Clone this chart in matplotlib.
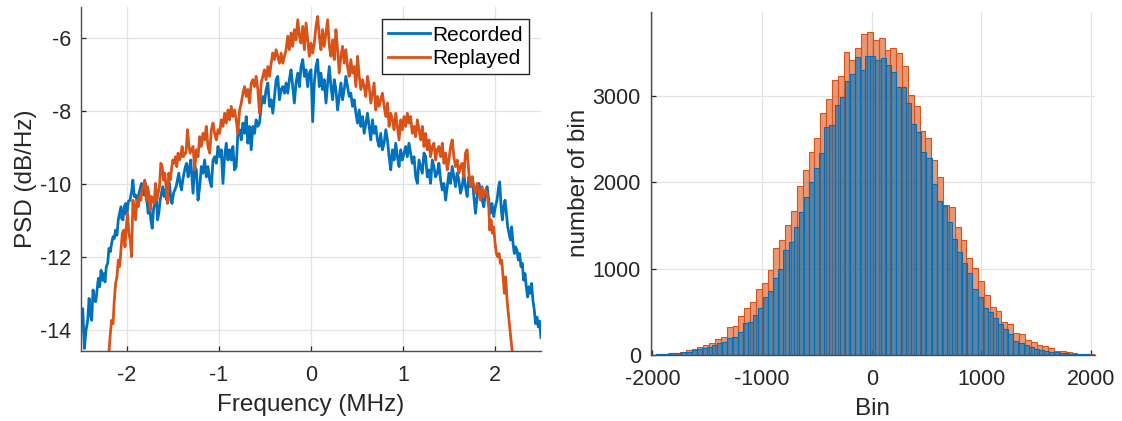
import numpy as np
import matplotlib
matplotlib.use("Agg")
import matplotlib.pyplot as plt

plt.rcParams['font.family'] = ['Liberation Sans', 'DejaVu Sans']
plt.rcParams['axes.unicode_minus'] = False

# ---------------- PSD data (MHz, dB/Hz) ----------------
rec_freq_a = [-2.500, -2.481, -2.463, -2.445, -2.427, -2.412, -2.398, -2.384, -2.369, -2.355, -2.340, -2.326,
              -2.311, -2.297, -2.282, -2.268, -2.254, -2.239, -2.225, -2.210, -2.196, -2.181, -2.167, -2.152,
              -2.138, -2.124, -2.109, -2.095, -2.080, -2.066, -2.059, -2.044, -2.030, -2.015, -2.001, -1.986,
              -1.968, -1.950, -1.936, -1.921, -1.907, -1.892, -1.878, -1.860, -1.842, -1.827, -1.813, -1.798,
              -1.784, -1.770, -1.755, -1.741, -1.726, -1.712, -1.697, -1.683, -1.668, -1.654, -1.640, -1.625,
              -1.611, -1.596, -1.582, -1.567, -1.553, -1.538, -1.524, -1.510, -1.495, -1.481, -1.466, -1.452,
              -1.437, -1.423, -1.408, -1.394, -1.380, -1.365, -1.351, -1.336, -1.322, -1.307]
rec_psd_a = [-13.70, -13.41, -14.50, -14.00, -13.73, -13.13, -13.54, -13.73, -12.90, -13.18, -13.22, -12.90,
             -12.58, -12.81, -12.36, -12.63, -12.45, -12.68, -12.26, -12.17, -11.76, -11.85, -11.62, -11.44,
             -11.49, -11.26, -11.40, -10.98, -10.80, -10.62, -10.94, -10.98, -10.62, -10.53, -10.85, -10.48,
             -10.44, -10.21, -9.89, -10.34, -10.30, -10.44, -10.34, -10.16, -9.98, -10.25, -10.30, -9.98,
             -10.44, -10.80, -10.53, -10.98, -11.21, -10.71, -10.44, -10.25, -10.98, -10.80, -10.44, -10.25,
             -10.07, -10.34, -10.16, -10.44, -10.25, -9.98, -10.44, -10.53, -10.25, -10.16, -10.07, -9.89,
             -9.70, -9.98, -10.16, -9.89, -9.70, -9.52, -9.43, -9.80, -9.61, -9.34]

mid_freq_a = [-1.282, -1.264, -1.246, -1.228, -1.210, -1.192, -1.174, -1.156, -1.138, -1.120, -1.101, -1.083,
              -1.065, -1.047, -1.029, -1.011, -0.993, -0.975, -0.957, -0.939, -0.921, -0.903, -0.885, -0.867,
              -0.849, -0.831, -0.813, -0.795, -0.776, -0.758, -0.740, -0.722, -0.704, -0.686, -0.668, -0.650,
              -0.632, -0.614, -0.596, -0.578, -0.560, -0.542, -0.524, -0.506, -0.488, -0.469, -0.451, -0.433,
              -0.415, -0.397, -0.379, -0.361, -0.343, -0.325, -0.307, -0.289, -0.271, -0.253, -0.235, -0.217,
              -0.199, -0.181, -0.163, -0.144, -0.126, -0.108, -0.090, -0.072, -0.054, -0.036, -0.018, 0.000]
rec_psd_b = [-10.25, -9.52, -9.61, -10.44, -10.07, -9.52, -9.70, -9.34, -9.80, -9.52, -9.89, -10.07,
             -9.34, -9.25, -9.43, -8.97, -9.25, -9.06, -9.98, -9.25, -8.88, -9.34, -9.06, -9.34,
             -8.97, -9.61, -9.52, -8.61, -8.51, -8.79, -8.33, -8.61, -8.15, -8.88, -8.42, -9.06,
             -8.42, -8.61, -8.24, -8.42, -8.33, -7.87, -7.60, -7.78, -7.41, -7.23, -7.87, -7.69,
             -8.06, -7.60, -7.14, -7.05, -7.69, -7.41, -7.33, -7.51, -7.23, -7.51, -7.14, -6.87,
             -7.33, -7.78, -7.23, -6.96, -7.33, -6.78, -6.59, -7.05, -6.87, -7.33, -6.96, -6.87]
rep_psd_b = [-8.97, -9.61, -9.06, -9.25, -8.70, -8.97, -8.61, -8.79, -8.42, -8.97, -9.15, -8.51,
             -8.33, -8.61, -8.79, -8.51, -8.61, -8.24, -8.42, -8.06, -8.33, -7.97, -8.24, -7.87,
             -8.15, -7.97, -8.24, -8.61, -7.97, -7.78, -7.51, -7.33, -7.60, -7.41, -7.78, -7.23,
             -7.14, -7.33, -7.05, -7.41, -8.06, -7.23, -7.05, -6.87, -7.14, -6.78, -7.05, -6.69,
             -6.41, -6.59, -6.32, -6.50, -6.69, -6.41, -6.69, -6.50, -6.32, -5.95, -6.32, -5.86,
             -6.23, -5.77, -6.05, -5.50, -5.95, -6.14, -5.68, -6.32, -5.59, -6.05, -6.50, -6.14]

mid_freq_c = [0.018, 0.036, 0.054, 0.072, 0.090, 0.108, 0.126, 0.144, 0.163, 0.181, 0.199, 0.217,
              0.235, 0.253, 0.271, 0.289, 0.307, 0.325, 0.343, 0.361, 0.379, 0.397, 0.415, 0.433,
              0.451, 0.469, 0.488, 0.506, 0.524, 0.542, 0.560, 0.578, 0.596, 0.614, 0.632, 0.650,
              0.668, 0.686, 0.704, 0.722, 0.740, 0.758, 0.776, 0.795, 0.813, 0.831, 0.849, 0.867,
              0.885, 0.903, 0.921, 0.939, 0.957, 0.975, 0.993, 1.011, 1.029, 1.047, 1.065, 1.083,
              1.101, 1.120, 1.138, 1.156, 1.174, 1.192, 1.210, 1.228, 1.246]
rec_psd_c = [-8.29, -7.23, -6.78, -6.59, -7.33, -6.96, -7.41, -7.14, -7.78, -7.23, -6.78, -7.33,
             -7.69, -7.14, -7.41, -7.97, -7.60, -7.23, -7.69, -7.41, -7.05, -7.33, -7.60, -7.51,
             -7.87, -7.69, -8.06, -8.33, -7.97, -8.42, -8.15, -8.61, -8.33, -8.06, -8.42, -8.79,
             -8.24, -8.61, -8.42, -8.79, -8.97, -8.61, -9.06, -8.88, -8.51, -8.79, -9.25, -9.61,
             -9.06, -9.34, -8.88, -9.25, -9.52, -9.06, -9.34, -9.15, -8.97, -9.25, -8.88, -9.15,
             -9.43, -9.25, -9.80, -9.98, -9.34, -9.52, -9.70, -9.15, -9.25]
rep_psd_c = [-6.41, -6.14, -5.68, -5.41, -5.95, -6.32, -5.77, -6.23, -5.86, -5.50, -6.23, -6.50,
             -6.05, -6.59, -5.77, -6.32, -6.96, -6.50, -6.23, -6.69, -6.32, -6.78, -7.05, -6.59,
             -6.96, -6.78, -7.33, -6.50, -7.05, -7.41, -7.14, -7.33, -7.60, -7.05, -7.33, -7.78,
             -7.51, -7.23, -7.97, -7.60, -7.87, -7.69, -7.51, -7.87, -8.15, -7.78, -8.42, -8.06,
             -8.24, -8.51, -8.06, -8.42, -8.79, -8.24, -8.51, -8.15, -8.42, -8.06, -8.33, -8.15,
             -8.61, -8.42, -8.70, -8.24, -8.51, -8.79, -8.42, -8.97, -8.61]

rec_freq_d = [1.264, 1.282, 1.300, 1.318, 1.336, 1.354, 1.372, 1.390, 1.409, 1.427, 1.445, 1.463,
              1.481, 1.499, 1.517, 1.535, 1.553, 1.571, 1.589, 1.607, 1.625, 1.643, 1.661, 1.679,
              1.697, 1.716, 1.734, 1.752, 1.770, 1.788, 1.806, 1.824, 1.842, 1.860, 1.878, 1.896,
              1.914, 1.932, 1.950, 1.968, 1.986, 2.004, 2.022, 2.040,
              2.051, 2.066, 2.080, 2.095, 2.109, 2.124, 2.138, 2.152, 2.167, 2.181, 2.196, 2.210,
              2.225, 2.239, 2.254, 2.268, 2.282, 2.297, 2.311, 2.326, 2.340, 2.355, 2.369, 2.384,
              2.398, 2.412, 2.427, 2.441, 2.456, 2.470, 2.485, 2.499]
rec_psd_d = [-9.80, -9.61, -9.98, -9.34, -9.52, -9.80, -9.70, -9.43, -9.89, -10.16, -9.98, -10.44,
             -10.07, -9.70, -9.98, -9.52, -9.80, -10.07, -9.70, -9.89, -10.25, -10.07, -9.70, -10.07,
             -10.34, -9.80, -10.07, -9.80, -10.34, -10.80, -10.34, -9.98, -10.16, -10.44, -10.62, -10.25,
             -10.07, -10.44, -10.80, -10.53, -10.89, -10.62, -10.44, -10.07,
             -9.94, -10.62, -10.98, -10.62, -10.44, -10.80, -11.17, -11.35, -11.53, -11.17, -11.62, -11.90,
             -11.72, -11.81, -12.08, -11.90, -12.26, -12.17, -12.63, -12.45, -12.81, -13.09, -12.81, -12.99,
             -12.72, -13.18, -13.45, -13.82, -13.64, -13.91, -13.75, -14.20]

rep_freq_a = [-2.196, -2.181, -2.167, -2.152, -2.138, -2.124, -2.109, -2.095, -2.080, -2.066, -2.051, -2.037,
              -2.022, -2.008, -1.994, -1.979, -1.965, -1.950, -1.936, -1.921, -1.907, -1.892, -1.878, -1.863,
              -1.849, -1.835, -1.820, -1.806, -1.791, -1.777, -1.762, -1.748, -1.733, -1.719, -1.705, -1.690,
              -1.676, -1.661, -1.647, -1.632, -1.618, -1.603, -1.589, -1.575, -1.560, -1.546, -1.531, -1.517,
              -1.502, -1.488, -1.473, -1.459, -1.445, -1.430, -1.416, -1.401, -1.387, -1.372, -1.358, -1.343,
              -1.329, -1.315]
rep_psd_a = [-14.60, -14.09, -13.73, -13.82, -13.18, -12.72, -12.54, -12.08, -12.26, -11.81, -11.35, -11.26,
             -11.72, -11.17, -10.80, -11.35, -11.53, -11.99, -10.44, -10.62, -10.98, -10.44, -10.62, -10.34,
             -10.44, -10.16, -10.07, -9.89, -10.44, -10.07, -10.25, -10.71, -10.34, -10.44, -10.53, -9.98,
             -10.44, -10.25, -10.07, -9.43, -9.52, -9.89, -9.70, -10.07, -10.53, -9.70, -9.89, -9.61,
             -9.34, -9.43, -9.25, -9.52, -9.15, -9.34, -9.25, -8.97, -9.25, -9.15, -9.15, -8.51,
             -8.88, -9.15]

rep_freq_d = [1.264, 1.282, 1.300, 1.318, 1.336, 1.354, 1.372, 1.390, 1.409, 1.427, 1.445, 1.463,
              1.481, 1.499, 1.517, 1.535, 1.553, 1.571, 1.589, 1.607, 1.625, 1.643, 1.661, 1.679,
              1.697, 1.716, 1.734, 1.752, 1.770, 1.788, 1.806, 1.824, 1.842, 1.860, 1.878, 1.896,
              1.914, 1.932,
              1.943, 1.957, 1.972, 1.986, 2.001, 2.015, 2.030, 2.044, 2.059, 2.073, 2.088, 2.102,
              2.116, 2.131, 2.145, 2.160, 2.174, 2.188]
rep_psd_d = [-9.06, -8.79, -9.25, -8.97, -8.88, -9.34, -9.06, -8.97, -9.25, -8.88, -9.43, -9.15,
             -9.61, -9.34, -8.97, -8.79, -9.25, -9.52, -9.34, -9.70, -9.52, -9.43, -9.80, -9.15,
             -9.06, -9.70, -10.07, -9.80, -10.07, -10.25, -9.98, -10.16, -10.44, -10.07, -10.34, -10.16,
             -10.25, -10.62,
             -11.26, -10.98, -11.35, -11.17, -11.62, -11.90, -11.99, -11.90, -12.17, -12.08, -12.54, -12.99,
             -12.54, -13.18, -13.54, -13.91, -14.27, -14.60]

rec_freq = rec_freq_a + mid_freq_a + mid_freq_c + rec_freq_d
rec_psd = rec_psd_a + rec_psd_b + rec_psd_c + rec_psd_d
rep_freq = rep_freq_a + mid_freq_a + mid_freq_c + rep_freq_d
rep_psd = rep_psd_a + rep_psd_b + rep_psd_c + rep_psd_d

# ---------------- Histogram data ----------------
rec_bin_limits = (-2015, 2035)
rec_counts = [5, 8, 12, 15, 20, 25, 35, 40, 55, 70, 80, 95, 110, 138, 150, 193, 212, 262, 374, 386,
              463, 540, 667, 741, 895, 991, 1215, 1312, 1485, 1655, 1825, 2002, 2168, 2334, 2635, 2662,
              2886, 2982, 3171, 3252, 3445, 3299, 3453, 3453, 3414, 3434, 3353, 3275, 3098, 3098, 2913,
              2670, 2581, 2350, 2276, 1979, 1786, 1728, 1535, 1346, 1192, 1061, 953, 760, 675, 540, 494,
              432, 359, 297, 239, 166, 135, 116, 96, 69, 58, 42, 35, 31, 27, 19, 14, 12, 9, 7, 5]
rep_bin_limits = (-2015, 2035)
rep_counts = [5, 8, 12, 20, 27, 39, 58, 66, 89, 116, 143, 181, 204, 320, 330, 451, 540, 617, 760, 829,
              984, 1235, 1331, 1500, 1667, 1956, 2137, 2353, 2512, 2797, 2959, 3183, 3229, 3499, 3407,
              3549, 3711, 3735, 3646, 3661, 3530, 3549, 3491, 3345, 3005, 2874, 2596, 2508, 2253, 2056,
              1736, 1709, 1485, 1331, 1119, 1003, 860, 698, 552, 513, 386, 359, 258, 243, 174, 147, 116,
              108, 77, 50, 42, 35, 19, 15, 12, 8]

BLUE = (0.0, 0.447, 0.741)
ORANGE = (0.85, 0.325, 0.098)
AXC = '#262626'
GRIDC = '#e3e3e3'
TICK_FS = 15.5
LABEL_FS = 17.5

fig = plt.figure(figsize=(11.22, 4.21), dpi=100)
ax1 = fig.add_axes([81 / 1122, (421 - 351) / 421, 460 / 1122, 344 / 421])
ax2 = fig.add_axes([650.7 / 1122, (421 - 355) / 421, 444.3 / 1122, 343.3 / 421])

for ax in (ax1, ax2):
    ax.set_axisbelow(True)
    ax.grid(True, color=GRIDC, linewidth=0.9)
    for s in ('top', 'right'):
        ax.spines[s].set_visible(False)
    for s in ('left', 'bottom'):
        ax.spines[s].set_color('#4d4d4d')
        ax.spines[s].set_linewidth(1.0)
    ax.tick_params(direction='in', length=3.5, width=0.9, colors=AXC, labelsize=TICK_FS)
    ax.tick_params(axis='x', pad=10)
    ax.tick_params(axis='y', pad=7)

# ---- left: PSD ----
ax1.plot(rec_freq, rec_psd, color=BLUE, lw=2.0, label='Recorded')
ax1.plot(rep_freq, rep_psd, color=ORANGE, lw=2.0, label='Replayed')
ax1.set_xlim(-2.5, 2.5)
ax1.set_ylim(-14.57, -5.15)
ax1.set_xticks([-2, -1, 0, 1, 2])
ax1.set_yticks([-14, -12, -10, -8, -6])
ax1.set_xlabel('Frequency (MHz)', fontsize=LABEL_FS, color=AXC, labelpad=6)
ax1.set_ylabel('PSD (dB/Hz)', fontsize=LABEL_FS, color=AXC, labelpad=2)
leg = ax1.legend(loc='upper right', bbox_to_anchor=(0.974, 0.964), borderaxespad=0,
                 fancybox=False, edgecolor=AXC, framealpha=1, fontsize=15,
                 handlelength=2.0, handletextpad=0.12, borderpad=0.3, labelspacing=0.22)
leg.get_frame().set_linewidth(1.0)

# ---- right: histogram ----
rec_edges = np.linspace(rec_bin_limits[0], rec_bin_limits[1], len(rec_counts) + 1)
rep_edges = np.linspace(rep_bin_limits[0], rep_bin_limits[1], len(rep_counts) + 1)
ax2.bar(rep_edges[:-1], rep_counts, width=np.diff(rep_edges), align='edge',
        facecolor=ORANGE + (0.6,), edgecolor=ORANGE, linewidth=0.8)
ax2.bar(rec_edges[:-1], rec_counts, width=np.diff(rec_edges), align='edge',
        facecolor=BLUE + (0.6,), edgecolor=BLUE, linewidth=0.8)
ax2.set_xlim(-2015, 2035)
ax2.set_ylim(0, 3970)
ax2.set_xticks([-2000, -1000, 0, 1000, 2000])
ax2.set_yticks([0, 1000, 2000, 3000])
ax2.set_xlabel('Bin', fontsize=LABEL_FS, color=AXC, labelpad=6)
ax2.set_ylabel('number of bin', fontsize=LABEL_FS, color=AXC, labelpad=2)

fig.savefig('out.png', dpi=100)
